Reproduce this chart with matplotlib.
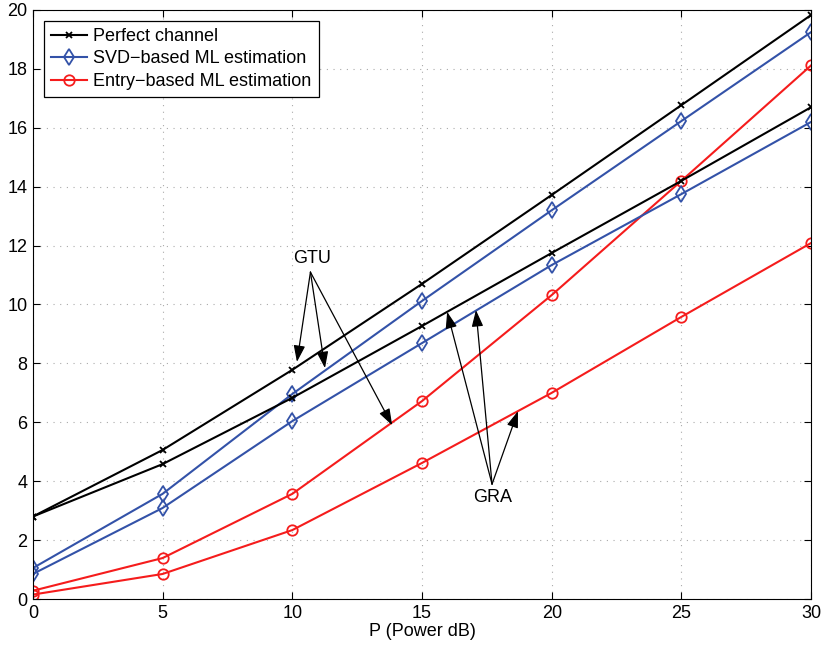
import matplotlib.pyplot as plt
import numpy as np

plt.rcParams['font.family'] = ['Liberation Sans', 'DejaVu Sans']

power_db = [0, 5, 10, 15, 20, 25, 30]

# GTU curves (upper set)
perfect_gtu = [2.8, 5.06, 7.78, 10.70, 13.72, 16.77, 19.83]
svd_gtu = [1.05, 3.57, 6.96, 10.12, 13.20, 16.23, 19.25]
entry_gtu = [0.28, 1.39, 3.57, 6.72, 10.32, 14.20, 18.12]

# GRA curves (lower set)
perfect_gra = [2.8, 4.58, 6.83, 9.27, 11.75, 14.20, 16.70]
svd_gra = [0.85, 3.09, 6.04, 8.69, 11.34, 13.75, 16.20]
entry_gra = [0.15, 0.85, 2.34, 4.62, 7.00, 9.58, 12.09]

BLACK = 'black'
BLUE = '#3352a8'
RED = '#f51c1c'
FS = 13

fig = plt.figure(figsize=(8.21, 6.48), dpi=100)
ax = fig.add_axes([0.040, 0.0756, 0.948, 0.909])

ax.plot(power_db, perfect_gtu, '-x', color=BLACK, lw=1.5, ms=5, mew=1.3, label='Perfect channel')
ax.plot(power_db, svd_gtu, '-d', color=BLUE, lw=1.5, ms=8, mfc='none', mew=1.3, label='SVD\u2212based ML estimation')
ax.plot(power_db, entry_gtu, '-o', color=RED, lw=1.5, ms=7.5, mfc='none', mew=1.3, label='Entry\u2212based ML estimation')
ax.plot(power_db, perfect_gra, '-x', color=BLACK, lw=1.5, ms=5, mew=1.3)
ax.plot(power_db, svd_gra, '-d', color=BLUE, lw=1.5, ms=8, mfc='none', mew=1.3)
ax.plot(power_db, entry_gra, '-o', color=RED, lw=1.5, ms=7.5, mfc='none', mew=1.3)

arrow = dict(arrowstyle='-|>,head_length=1.0,head_width=0.35', color='black', lw=0.9, shrinkA=0, shrinkB=0)

ax.text(10.76, 11.55, 'GTU', fontsize=FS, ha='center', va='center')
for tx, ty in [(10.18, 8.05), (11.26, 7.84), (13.85, 5.9)]:
    ax.annotate('', xy=(tx, ty), xytext=(10.7, 11.1), arrowprops=arrow)

ax.text(17.74, 3.46, 'GRA', fontsize=FS, ha='center', va='center')
for tx, ty in [(15.97, 9.75), (17.08, 9.81), (18.7, 6.38)]:
    ax.annotate('', xy=(tx, ty), xytext=(17.7, 3.9), arrowprops=arrow)

ax.set_xlim(0, 30)
ax.set_ylim(0, 20)
ax.set_xticks(np.arange(0, 31, 5))
ax.set_yticks(np.arange(0, 21, 2))
ax.tick_params(direction='in', labelsize=FS, length=5, top=True, right=True, pad=4)
ax.grid(True, linestyle=(0, (1, 5)), color='#aaaaaa', lw=0.8)
ax.set_xlabel('P (Power dB)', fontsize=FS, labelpad=1)

leg = ax.legend(loc='upper left', fontsize=FS, fancybox=False, framealpha=1,
                edgecolor='black', handlelength=2.0, handletextpad=0.35,
                borderaxespad=0.6, labelspacing=0.3, borderpad=0.4)
leg.get_frame().set_linewidth(0.9)

plt.savefig('out.png', dpi=100)
